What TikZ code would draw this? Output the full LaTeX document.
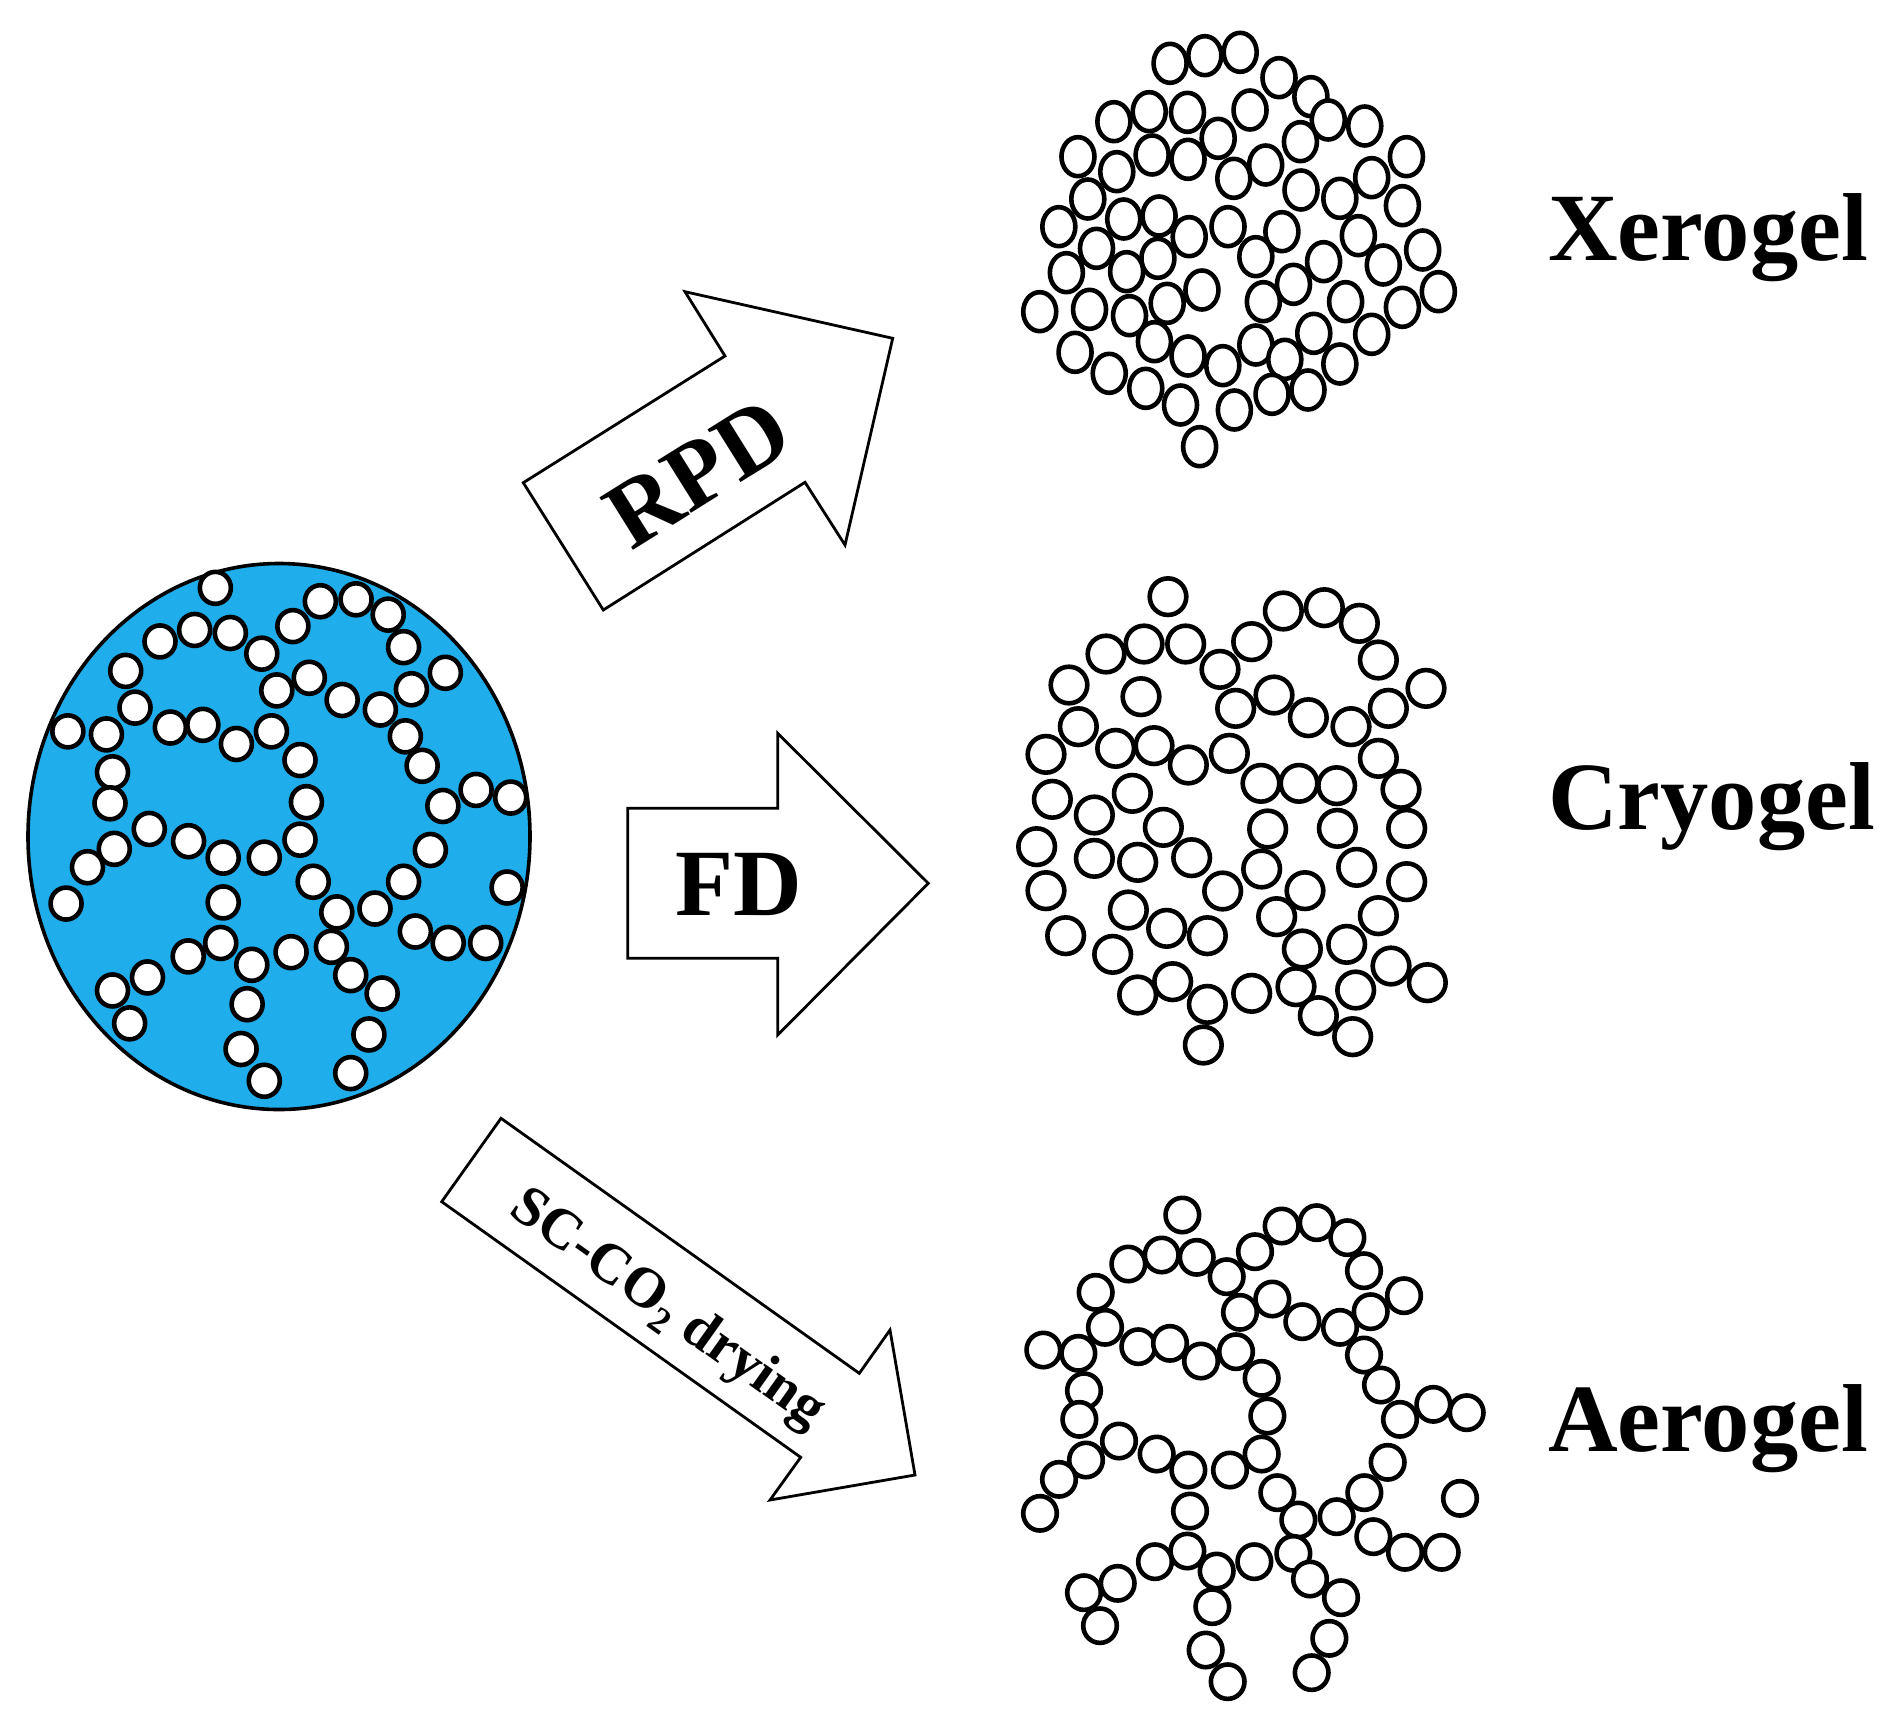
\documentclass[tikz,border=0pt]{standalone}
\usepackage{fontspec}
\setmainfont{Liberation Serif}
\definecolor{gelblue}{RGB}{31,174,235}
\tikzset{
  bead/.style={draw=black,fill=white,line width=4.6pt},
  bigarrow/.style={draw=black,fill=white,line width=2.8pt,line join=miter},
  biglabel/.style={font=\bfseries\fontsize{96.5}{96.5}\selectfont,inner sep=0pt,anchor=base west},
  arrowlabel/.style={font=\bfseries\fontsize{95}{95}\selectfont,inner sep=0pt},
  smalllabel/.style={font=\bfseries\fontsize{57}{57}\selectfont,inner sep=0pt}
}
\begin{document}
\begin{tikzpicture}[x=1pt,y=-1pt]
\useasboundingbox (0,0) rectangle (1902,1735);
\fill[white] (0,0) rectangle (1902,1735);
% wet gel
\draw[fill=gelblue,draw=black,line width=3.6pt] (279,836.5) ellipse [x radius=251, y radius=273];
\foreach \a/\b in {603/125,897/160,997/155,1087/195,820/225,545/235,645/243,448/265,1130/280,733/297,352/342,1247/347,866/360,775/393,1152/390,958/418,378/438,1065/443,190/500,298/508,477/490,568/483,760/500,662/533,1135/513,840/575,1182/590,315/607,1333/653,1430/673,1240/695,308/688,858/685,418/755,528/787,840/783,320/807,625/830,740/830,1205/810,245/855,877/893,1130/893,1420/908,185/950,625/947,943/973,1050/963,1163/1023,618/1053,928/1063,1255/1053,1360/1053,527/1088,815/1077,705/1110,982/1137,413/1143,315/1177,1070/1185,692/1213,363/1263,1033/1292,675/1330,740/1413,982/1393}
  \draw[bead] ({\a/2.8},{540+\b/2.613}) ellipse [x radius=15.5, y radius=16];
% xerogel
\foreach \a/\b in {297/190,357/167,418/157,485/233,540/290,435/330,570/360,633/378,200/365,261/335,327/337,380/415,522/425,705/470,138/470,205/515,266/465,328/478,462/495,407/535,523/570,645/533,590/595,698/617,155/597,105/680,217/657,278/648,330/710,397/680,490/695,622/707,170/745,276/775,445/770,562/785,733/750,665/795,118/818,222/815,352/870,510/853,292/910,458/905,600/905,760/875,698/922,72/935,158/928,227/947,545/1000,645/1003,270/1025,445/1035,133/1057,328/1068,495/1078,388/1097,590/1092,192/1120,255/1165,473/1183,535/1170,315/1215,408/1230,348/1340}
  \draw[bead] ({998+\a/1.726},{\b/3}) ellipse [x radius=16.5, y radius=19.5];
% cryogel
\foreach \a/\b in {504/110,850/153,973/143,1078/190,755/245,557/252,432/252,318/282,1135/300,660/328,207/375,423/410,1278/385,822/405,707/445,1165/445,925/473,1053/500,235/500,347/565,462/557,688/580,565/615,138/583,1135/595,783/670,897/670,1010/677,1203/688,157/718,397/700,283/765,490/802,803/807,1012/805,1220/805,110/860,283/895,413/907,575/893,785/927,1070/922,1220/965,138/992,668/993,915/992,385/1050,830/1070,1135/1067,500/1105,622/1127,197/1127,1040/1153,907/1167,338/1183,1173/1218,518/1265,1282/1268,888/1280,1067/1290,413/1305,755/1300,622/1333,955/1367,1058/1430,610/1455}
  \draw[bead] ({1000+\a/3},{560+\b/3}) ellipse [x radius=18.3, y radius=18.3];
% aerogel
\foreach \a/\b in {517/45,815/78,920/68,1012/113,735/155,455/165,560/172,355/192,1062/212,650/230,257/277,1182/287,787/297,690/337,1082/335,877/365,285/382,990/382,100/450,205/460,385/440,480/430,678/455,573/483,1062/465,755/535,1113/555,222/572,1270/613,1370/638,1170/658,208/658,772/648,327/723,440/762,755/762,228/780,535/810,660/810,1133/787,147/838,802/878,1063/878,1350/895,90/940,540/933,865/960,980/950,1090/1010,532/1053,850/1060,1185/1057,1295/1057,435/1085,733/1085,620/1113,900/1137,323/1150,222/1178,993/1193,607/1220,270/1277,958/1315,587/1350,653/1445,905/1418}
  \draw[bead] ({1010+\a/3},{1200+\b/3}) ellipse [x radius=16.8, y radius=17.2];
% arrows
\draw[bigarrow] (523.3,482.7) -- (725,356) -- (685,291.7) -- (892.7,338.3) -- (845,545) -- (805,482.3) -- (603.3,610) -- cycle;
\draw[bigarrow] (627.7,808.3) -- (777.7,808.3) -- (777.7,733.3) -- (928.3,883.3) -- (777.7,1035) -- (777.7,958.3) -- (627.7,958.3) -- cycle;
\draw[bigarrow] (501,1118.3) -- (859.3,1373.3) -- (890,1330) -- (915,1475) -- (770,1500) -- (800.7,1457.3) -- (441.7,1201.7) -- cycle;
% labels
\node[arrowlabel,rotate=32] (rpd) at (698,473) {RPD};
\node[arrowlabel,anchor=base] (fd) at (739,915) {FD};
\node[smalllabel,rotate=-35.4] (sc) at (667,1310) {SC-CO\raisebox{-0.2em}{\fontsize{37}{37}\selectfont 2} drying};
\node[biglabel] (xero) at (1548,260) {Xerogel};
\node[biglabel] (cryo) at (1548,829) {Cryogel};
\node[biglabel] (aero) at (1548,1451) {Aerogel};
\end{tikzpicture}
\end{document}
